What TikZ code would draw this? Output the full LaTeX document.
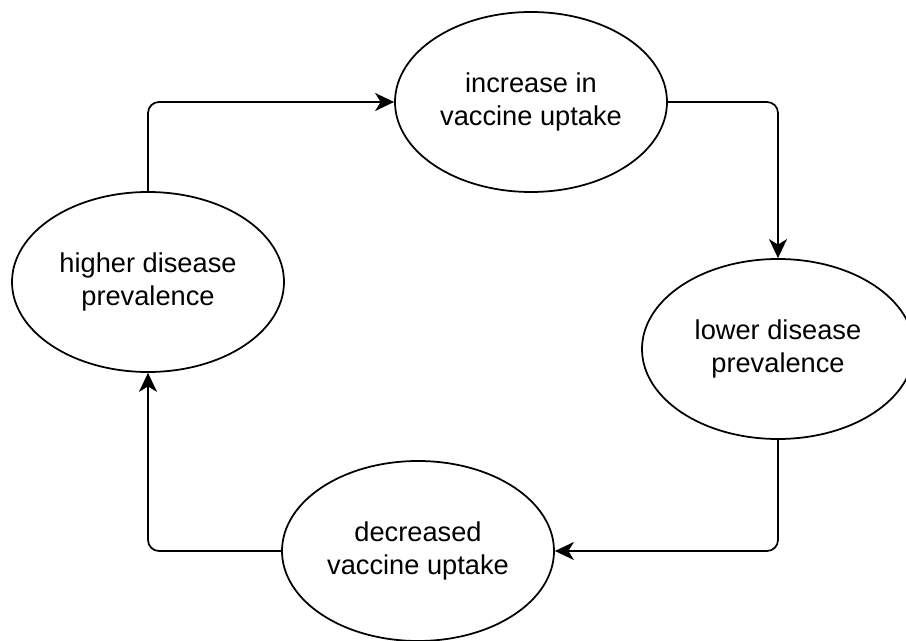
\documentclass[tikz,border=0pt]{standalone}
\usepackage{fontspec}
\setmainfont{Liberation Sans}
\usetikzlibrary{shapes.geometric,arrows.meta}

\begin{document}
\begin{tikzpicture}[
        state/.style={ellipse, draw, line width=1pt, minimum width=5.44cm, minimum height=3.6cm,
            inner sep=0pt, align=center, font=\fontsize{15.5}{18.8}\selectfont},
        flow/.style={line width=1pt, rounded corners=0.22cm,
            -{Stealth[length=0.38cm, width=0.36cm, inset=0.11cm]}}
    ]
        \useasboundingbox
            (0,0) rectangle (18.12,-12.82);
        \node[state] (uptakeup) at (10.62,-2.04) {increase in\\vaccine uptake};
        \node[state] (prevhigh) at (2.96,-5.64) {higher disease\\prevalence};
        \node[state] (prevlow) at (15.56,-6.98) {lower disease\\prevalence};
        \node[state] (uptakedown) at (8.36,-11.02) {decreased\\vaccine uptake};
        \draw[flow]
            (prevhigh.north) |- (uptakeup.west);
        \draw[flow]
            (uptakeup.east) -| (prevlow.north);
        \draw[flow]
            (prevlow.south) |- (uptakedown.east);
        \draw[flow]
            (uptakedown.west) -| (prevhigh.south);
    \end{tikzpicture}
\end{document}
